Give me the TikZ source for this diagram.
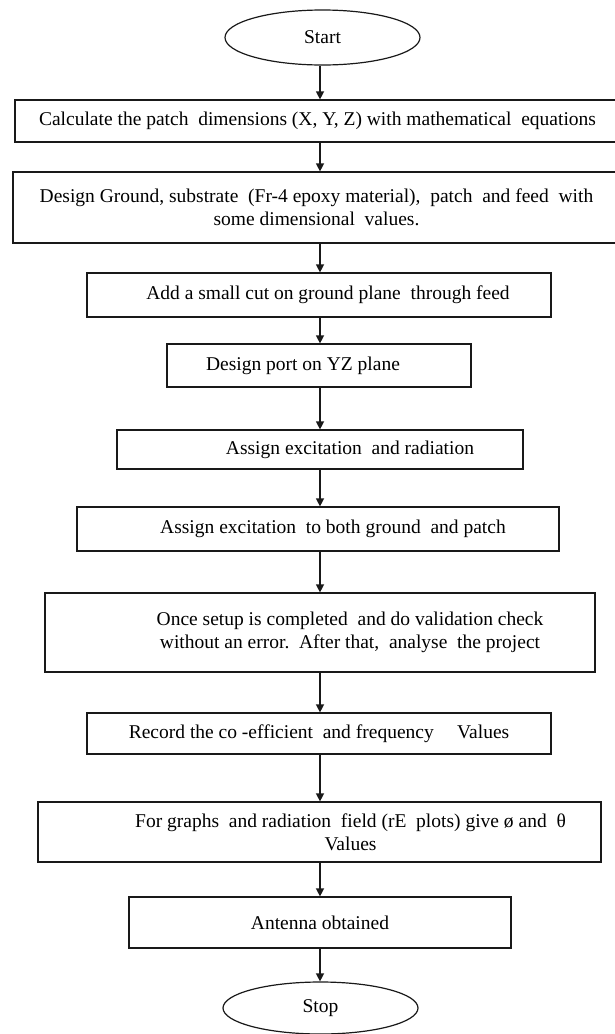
\documentclass[tikz,border=0pt]{standalone}
\usepackage{fontspec}
\setmainfont{Liberation Serif}
\usepackage{tikz}
\usetikzlibrary{
    positioning,
    shapes.geometric,
    arrows.meta,
    calc
}
\definecolor{linecolor}{RGB}{25, 25, 25}

\begin{document}
\begin{tikzpicture}[
    x=1pt, y=-1pt,
    % Start / Stop ellipses
    terminal/.style={
        ellipse,
        draw=linecolor,
        line width=1.2pt,
        minimum width=195pt,
        minimum height=#1,
        inner sep=0pt,
        font=\fontsize{19.5}{23}\selectfont
    },
    % Process box
    stepbox/.style={
        rectangle,
        draw=linecolor,
        line width=1.2pt,
        align=center,
        inner sep=2pt,
        font=\fontsize{19.5}{23}\selectfont
    },
    % Arrow style
    arrow/.style={
        -{Triangle[length=8pt, width=8pt]},
        draw=linecolor,
        line width=1.3pt
    }
]

\useasboundingbox (0, 0) rectangle (615, 1034);

% ============================================
% START
% ============================================

\node[terminal=55pt] (start) at (322.5, 37.5) {Start};

% ============================================
% PROCESS STEPS
% ============================================

\node[stepbox, minimum width=605pt, minimum height=42pt] (calc) at (317.5, 121)
    {Calculate the patch\ \ dimensions (X, Y, Z) with mathematical\ \ equations};

\node[stepbox, minimum width=607pt, minimum height=71pt] (design) at (316.5, 207.5)
    {Design Ground, substrate\ \ (Fr-4 epoxy material),\ \ patch\ \ and feed\ \ with\\
     some dimensional\ \ values.};

\node[stepbox, minimum width=464pt, minimum height=44pt] (cut) at (319, 295)
    {\hspace*{18pt}Add a small cut on ground plane\ \ through feed};

\node[stepbox, minimum width=304pt, minimum height=43pt] (port) at (319, 365.5)
    {Design port on YZ plane\hspace*{32pt}};

\node[stepbox, minimum width=406pt, minimum height=39pt] (radiation) at (320, 449.5)
    {\hspace*{60pt}Assign excitation\ \ and radiation};

\node[stepbox, minimum width=482pt, minimum height=44pt] (excite) at (318, 529)
    {\hspace*{30pt}Assign excitation\ \ to both ground\ \ and patch};

\node[stepbox, minimum width=550pt, minimum height=79pt] (validate) at (320, 632.5)
    {\hspace*{60pt}Once setup is completed\ \ and do validation check\\
     \hspace*{60pt}without an error.\ \ After that,\ \ analyse\ \ the project};

\node[stepbox, minimum width=464pt, minimum height=41pt] (record) at (319, 733.5)
    {Record the co -efficient\ \ and frequency\hspace{1.2em}Values};

\node[stepbox, minimum width=563pt, minimum height=60pt] (plots) at (319.5, 832)
    {\hspace*{62pt}For graphs\ \ and radiation\ \ field (rE\ \ plots) give ø and\ \ θ\\
     \hspace*{62pt}Values};

\node[stepbox, minimum width=382pt, minimum height=51pt] (antenna) at (320, 922.5)
    {Antenna obtained};

% ============================================
% STOP
% ============================================

\node[terminal=52pt] (stop) at (320.5, 1008) {Stop};

% Flow arrows (all on one vertical axis)
\coordinate (axis) at (320, 0);
\foreach \a/\b in {start/calc, calc/design, design/cut, cut/port, port/radiation,
                   radiation/excite, excite/validate, validate/record,
                   record/plots, plots/antenna, antenna/stop} {
    \draw[arrow] (\a.south -| axis) -- (\b.north -| axis);
}

\end{tikzpicture}
\end{document}
